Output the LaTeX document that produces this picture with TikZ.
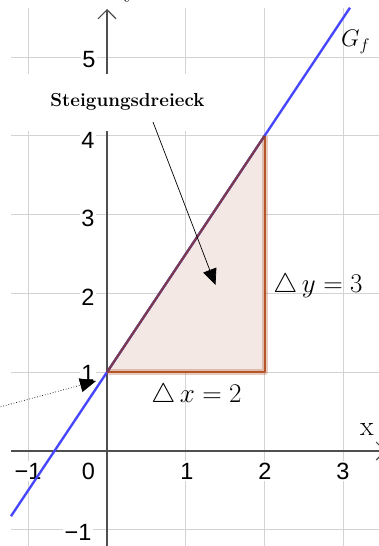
\RequirePackage{fix-cm}
\documentclass[tikz,border=0pt]{standalone}
\usepackage{fontspec}
\newfontfamily\tickfont{Liberation Sans}
\usetikzlibrary{arrows.meta}
\definecolor{gridc}{HTML}{D3D3D3}
\definecolor{axisc}{HTML}{4F4F4F}
\definecolor{blueline}{HTML}{4646FF}
\definecolor{hypc}{HTML}{7D3A4C}
\definecolor{legc}{HTML}{B4552A}
\definecolor{trifill}{HTML}{F3E8E3}
\begin{document}
\begin{tikzpicture}[x=1pt,y=-1pt,
  gridline/.style={draw=gridc, line width=1pt},
  axisline/.style={draw=axisc, line width=1.1pt, -{Straight Barb[length=9pt,width=18pt,line width=1.1pt]}},
  ticklabel/.style={font=\tickfont\fontsize{23.5}{23.5}\selectfont, fill=white, inner sep=1.5pt},
  mathlabel/.style={font=\fontsize{27}{30}\selectfont, inner sep=0pt, anchor=base},
  pointer/.style={-{Triangle[length=16pt,width=14pt]}, line width=0.7pt, black}
]
\useasboundingbox (0,0) rectangle (379,546);
\fill[white] (0,0) rectangle (379,546);
% grid
\foreach \gx in {28.2,185.8,264.6,343.4} \draw[gridline] (\gx,8) -- (\gx,546);
\foreach \gy in {57,135.8,214.6,293.4,372.2,529.8} \draw[gridline] (11,\gy) -- (379,\gy);
% axes
\coordinate (xs) at (11,451);
\coordinate (xe) at (386,451);
\coordinate (ys) at (107,546);
\coordinate (ye) at (107,9);
\draw[axisline] (xs) -- (xe);
\draw[axisline] (ys) -- (ye);
\node[font=\fontsize{28}{28}\selectfont, inner sep=0pt, anchor=base] (xl) at (367,435) {x};
\node[font=\fontsize{28}{28}\selectfont, inner sep=0pt, anchor=base] (yl) at (131,-4) {y};
% label box
\node[fill=white, minimum width=234pt, minimum height=57pt, inner sep=0pt,
      font=\fontsize{18.8}{20}\selectfont\bfseries] (lbl) at (127.5,102) {Steigungsdreieck};
% tick labels
\node[ticklabel] (tm1) at (28,471) {−1};
\node[ticklabel] (t0) at (88.5,471) {0};
\node[ticklabel] (t1) at (187,471) {1};
\node[ticklabel] (t2) at (265,471) {2};
\node[ticklabel] (t3) at (343,471) {3};
\node[ticklabel] (u5) at (89,60) {5};
\node[ticklabel] (u4) at (88,140) {4};
\node[ticklabel] (u3) at (88,218) {3};
\node[ticklabel] (u2) at (88,297) {2};
\node[ticklabel] (u1) at (88,373) {1};
\node[ticklabel] (um1) at (78,532) {−1};
% triangle
\coordinate (A) at (107,372.2);
\coordinate (B) at (264.6,372.2);
\coordinate (C) at (264.6,135.8);
\fill[trifill] (A) -- (B) -- (C) -- cycle;
% graph
\coordinate (gs) at (11,516.2);
\coordinate (ge) at (350,7.7);
\draw[blueline, line width=2.4pt] (gs) -- (ge);
\draw[legc, opacity=0.3, line width=6pt, line join=round] (A) -- (B) -- (C);
\draw[legc, line width=2pt, line join=round] (A) -- (B) -- (C);
\draw[hypc, line width=2.2pt] (A) -- (C);
% labels
\node[mathlabel] (dx) at (196.5,402) {$\triangle\, x = 2$};
\node[mathlabel] (dy) at (318,292) {$\triangle\, y = 3$};
\node[font=\fontsize{24}{24}\selectfont, inner sep=0pt, anchor=base west] (gf) at (341,46.5) {$G_f$};
% pointers
\coordinate (p0) at (153,122);
\coordinate (p1) at (215.5,285);
\draw[pointer] (p0) -- (p1);
\coordinate (q0) at (-2,407.5);
\coordinate (q1) at (96,381);
\draw[pointer, dotted] (q0) -- (q1);
\end{tikzpicture}
\end{document}
